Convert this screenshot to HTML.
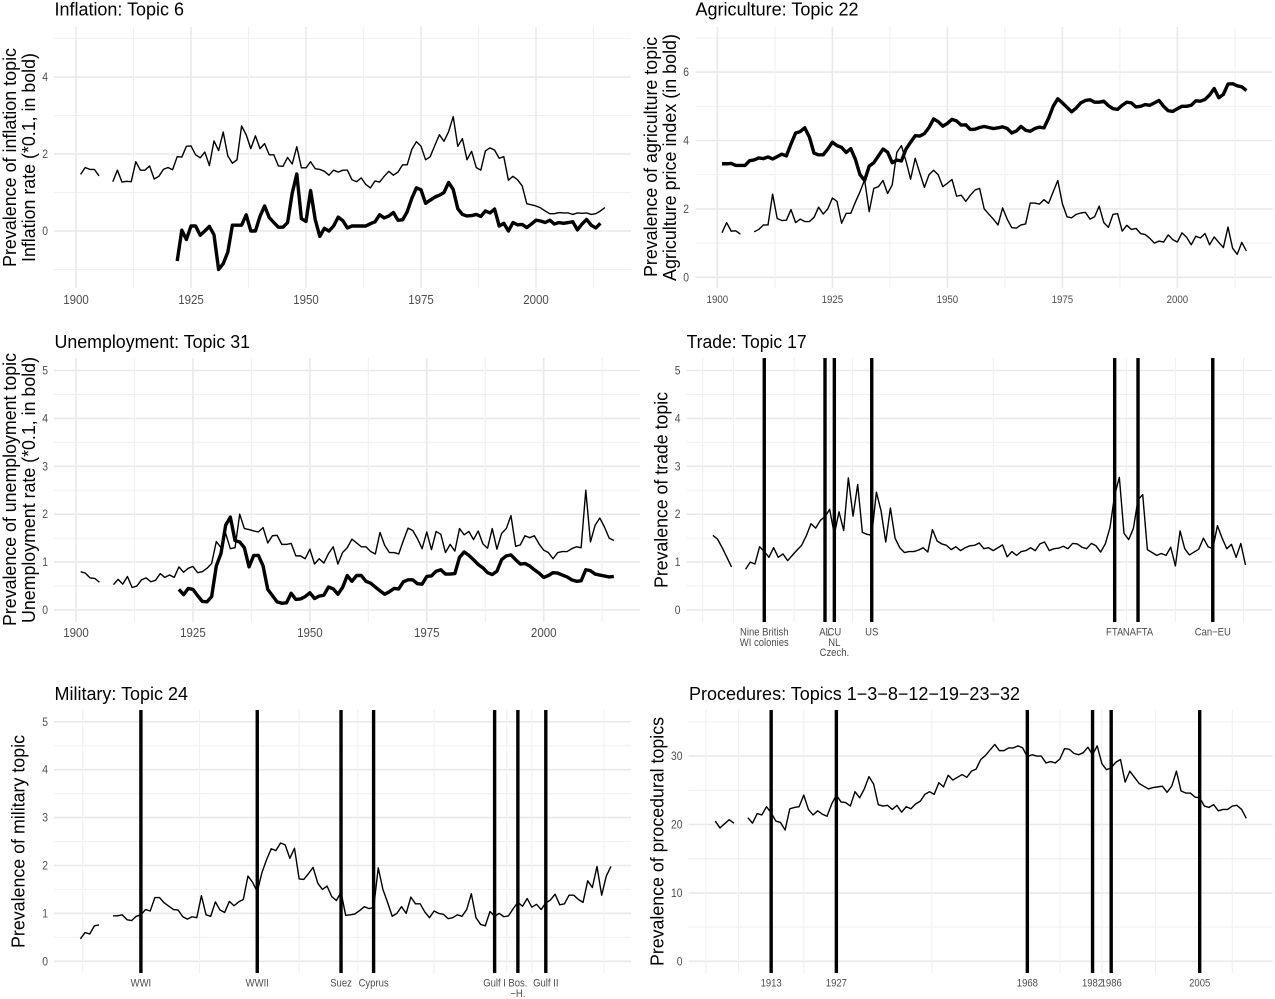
<!DOCTYPE html>
<html lang="en">
<head>
<meta charset="utf-8">
<title>Topic prevalence charts</title>
<style>
html,body{margin:0;padding:0;background:#fff;width:1275px;height:999px;overflow:hidden}
svg{display:block;font-family:"Liberation Sans",sans-serif;filter:blur(0.35px)}
.title{font-size:18px;fill:#000}
.axt{font-size:18.5px;fill:#000;text-anchor:middle}
</style>
</head>
<body>
<svg id="chart" xmlns="http://www.w3.org/2000/svg" width="1275" height="999" viewBox="0 0 1275 999">
  <rect width="1275" height="999" fill="#fff"/>
  <g id="panels"></g>
  <g>
    <text class="title" x="54.5" y="15.5" textLength="129.5" lengthAdjust="spacingAndGlyphs">Inflation: Topic 6</text>
    <text class="title" x="695.5" y="15.5" textLength="163" lengthAdjust="spacingAndGlyphs">Agriculture: Topic 22</text>
    <text class="title" x="54.5" y="348" textLength="195.5" lengthAdjust="spacingAndGlyphs">Unemployment: Topic 31</text>
    <text class="title" x="686.6" y="348" textLength="120" lengthAdjust="spacingAndGlyphs">Trade: Topic 17</text>
    <text class="title" x="54.5" y="700" textLength="133.5" lengthAdjust="spacingAndGlyphs">Military: Topic 24</text>
    <text class="title" x="689" y="700" textLength="331" lengthAdjust="spacingAndGlyphs">Procedures: Topics 1−3−8−12−19−23−32</text>
  </g>
  <g>
    <text class="axt" transform="translate(16 157.5) rotate(-90)" textLength="219" lengthAdjust="spacingAndGlyphs">Prevalence of inflation topic</text>
    <text class="axt" transform="translate(35 157.5) rotate(-90)" textLength="209" lengthAdjust="spacingAndGlyphs">Inflation rate (*0.1, in bold)</text>
    <text class="axt" transform="translate(657 157) rotate(-90)" textLength="240" lengthAdjust="spacingAndGlyphs">Prevalence of agriculture topic</text>
    <text class="axt" transform="translate(676 157.5) rotate(-90)" textLength="247" lengthAdjust="spacingAndGlyphs">Agriculture price index (in bold)</text>
    <text class="axt" transform="translate(16 489.5) rotate(-90)" textLength="273" lengthAdjust="spacingAndGlyphs">Prevalence of unemployment topic</text>
    <text class="axt" transform="translate(35 490) rotate(-90)" textLength="266" lengthAdjust="spacingAndGlyphs">Unemployment rate (*0.1, in bold)</text>
    <text class="axt" transform="translate(667.5 490) rotate(-90)" textLength="196" lengthAdjust="spacingAndGlyphs">Prevalence of trade topic</text>
    <text class="axt" transform="translate(24.5 841.5) rotate(-90)" textLength="213" lengthAdjust="spacingAndGlyphs">Prevalence of military topic</text>
    <text class="axt" transform="translate(663.5 841.5) rotate(-90)" textLength="249" lengthAdjust="spacingAndGlyphs">Prevalence of procedural topics</text>
  </g>
</svg>
<script>
const firstYear = 1901;
const boldStartInflation = 1922;
const boldStartUnemployment = 1922;
const boldStartAgriculture = 1901;

const inflationTopic = [1.47,1.65,1.60,1.60,1.43,null,null,1.28,1.58,1.27,1.29,1.28,1.80,1.58,1.58,1.69,1.35,1.42,1.60,1.65,1.59,1.93,1.92,2.20,2.21,1.98,1.90,2.05,1.70,2.34,2.09,2.57,1.95,1.76,1.85,2.73,2.50,2.14,2.47,2.14,2.27,1.98,1.98,1.69,1.68,1.91,1.74,2.19,1.64,1.64,1.80,1.62,1.60,1.55,1.45,1.58,1.53,1.58,1.58,1.33,1.28,1.38,1.21,1.12,1.30,1.27,1.42,1.55,1.45,1.53,1.72,1.72,2.12,2.32,2.20,1.85,1.93,2.22,2.50,2.33,2.58,2.97,2.20,2.40,1.85,2.07,1.65,1.58,2.08,2.16,2.10,1.89,1.93,1.32,1.42,1.33,1.17,0.71,0.68,0.65,0.60,0.52,0.45,0.45,0.48,0.47,0.47,0.43,0.47,0.46,0.47,0.43,0.45,0.52,0.61];
const inflationRate = [-0.78,0.02,-0.22,0.13,0.13,-0.11,0.0,0.12,-0.1,-1.0,-0.85,-0.55,0.15,0.15,0.15,0.42,0.0,0.0,0.38,0.65,0.35,0.22,0.1,0.1,0.22,0.98,1.48,0.32,0.25,1.05,0.3,-0.14,0.07,0.0,0.13,0.36,0.27,0.08,0.13,0.13,0.13,0.13,0.19,0.24,0.42,0.34,0.39,0.48,0.28,0.29,0.5,0.85,1.12,1.07,0.72,0.8,0.88,0.93,1.0,1.26,1.08,0.58,0.43,0.39,0.4,0.43,0.38,0.52,0.47,0.57,0.13,0.2,0.0,0.22,0.16,0.17,0.09,0.18,0.28,0.26,0.22,0.28,0.18,0.22,0.2,0.22,0.24,0.03,0.18,0.3,0.15,0.08,0.2];

const agricultureTopic = [1.3,1.6,1.35,1.36,1.26,null,null,1.33,1.4,1.53,1.53,2.43,1.72,1.66,1.67,1.98,1.6,1.7,1.63,1.63,1.75,2.05,1.85,2.0,2.32,2.22,1.58,1.87,1.87,2.2,2.5,2.85,1.92,2.6,2.65,2.83,2.45,2.7,3.65,3.85,3.4,2.87,3.48,3.05,2.63,3.0,3.13,3.0,2.65,2.75,2.86,2.37,2.4,2.22,2.4,2.55,2.6,2.0,1.85,1.7,1.53,2.03,1.7,1.45,1.44,1.53,1.56,2.17,2.17,2.14,2.27,2.16,2.5,2.83,2.15,1.77,1.74,1.84,1.88,1.9,1.7,1.77,2.08,1.6,1.46,1.84,1.86,1.35,1.52,1.4,1.43,1.28,1.25,1.14,1.0,1.06,1.03,1.24,1.1,1.03,1.3,1.17,0.95,1.2,1.15,1.28,0.95,1.18,1.02,0.87,1.47,0.85,0.67,1.02,0.77];
const agricultureIndex = [3.32,3.32,3.33,3.27,3.27,3.27,3.41,3.43,3.49,3.47,3.52,3.46,3.53,3.6,3.55,3.9,4.22,4.26,4.37,4.1,3.63,3.58,3.58,3.75,3.95,3.85,3.8,3.65,3.76,3.45,3.0,2.83,3.25,3.35,3.55,3.75,3.66,3.35,3.43,3.4,3.75,3.95,4.14,4.13,4.2,4.38,4.63,4.55,4.42,4.5,4.62,4.57,4.45,4.46,4.32,4.33,4.38,4.41,4.38,4.35,4.37,4.4,4.35,4.22,4.28,4.41,4.3,4.27,4.35,4.39,4.37,4.65,5.0,5.22,5.1,4.97,4.84,4.95,5.1,5.17,5.19,5.12,5.12,5.15,5.02,4.93,4.91,5.03,5.12,5.1,4.98,5.0,5.05,5.03,5.1,5.17,5.0,4.87,4.85,4.93,5.0,5.0,5.03,5.16,5.15,5.2,5.33,5.52,5.25,5.35,5.65,5.66,5.6,5.57,5.46];

const unemploymentTopic = [0.8,0.77,0.67,0.66,0.58,null,null,0.53,0.64,0.54,0.7,0.47,0.5,0.63,0.67,0.59,0.62,0.76,0.68,0.73,0.68,0.9,0.79,0.87,0.91,0.78,0.8,0.87,0.97,1.43,1.3,1.6,1.28,1.3,2.0,1.7,1.68,1.65,1.63,1.72,1.4,1.55,1.56,1.37,1.37,1.39,1.13,1.13,1.07,1.27,0.96,1.07,0.98,1.18,1.32,0.96,1.2,1.3,1.48,1.4,1.32,1.32,1.22,1.17,1.62,1.35,1.2,1.2,1.17,1.45,1.71,1.66,1.49,1.28,1.63,1.26,1.64,1.58,1.2,1.37,1.23,1.7,1.57,1.64,1.47,1.65,1.38,1.29,1.7,1.27,1.6,1.7,1.97,1.33,1.36,1.55,1.51,1.55,1.38,1.25,1.2,1.07,1.2,1.22,1.22,1.28,1.32,1.3,2.5,1.42,1.77,1.92,1.73,1.5,1.45];
const unemploymentRate = [0.43,0.32,0.45,0.43,0.3,0.18,0.17,0.28,0.92,1.18,1.77,1.94,1.45,1.42,1.3,0.9,1.14,1.14,0.92,0.43,0.3,0.17,0.14,0.15,0.35,0.22,0.23,0.28,0.36,0.24,0.29,0.31,0.48,0.44,0.33,0.47,0.72,0.6,0.72,0.72,0.6,0.56,0.48,0.4,0.33,0.38,0.45,0.44,0.59,0.63,0.63,0.55,0.54,0.7,0.71,0.81,0.84,0.75,0.75,0.76,1.1,1.21,1.14,1.05,0.95,0.88,0.78,0.74,0.81,1.05,1.13,1.15,1.05,0.96,0.97,0.92,0.84,0.77,0.68,0.72,0.78,0.77,0.73,0.69,0.63,0.6,0.61,0.84,0.82,0.75,0.73,0.71,0.69,0.7];

const tradeTopic = [1.56,1.48,1.3,1.1,0.9,null,null,0.85,1.0,0.96,1.32,1.22,1.1,1.3,1.1,1.17,1.03,1.14,1.25,1.35,1.55,1.8,1.71,1.87,1.95,2.1,1.58,2.05,1.66,2.76,1.96,2.62,1.62,1.58,1.56,2.46,2.07,1.42,2.13,1.5,1.3,1.2,1.22,1.22,1.25,1.3,1.21,1.68,1.44,1.38,1.35,1.26,1.32,1.24,1.3,1.34,1.35,1.4,1.28,1.3,1.24,1.3,1.36,1.11,1.22,1.14,1.22,1.24,1.3,1.24,1.38,1.42,1.24,1.28,1.29,1.33,1.28,1.39,1.38,1.31,1.28,1.39,1.34,1.21,1.38,1.72,2.4,2.77,1.6,1.47,1.7,2.3,2.41,1.26,1.2,1.14,1.18,1.14,1.31,0.92,1.65,1.28,1.15,1.21,1.27,1.5,1.32,1.28,1.76,1.5,1.28,1.37,1.1,1.39,0.94];
const tradeEventYears = [1912,1925,1927,1935,1987,1992,2008];
const tradeEventLabels = ["Nine British\nWI colonies","AL","CU\nNL\nCzech.","US","FTA","NAFTA","Can−EU"];
const tradeMinorYears = [1898.8,1905.4,1918.4,1926,1930.9,1961,1989.5,2000,2014.6];

const militaryTopic = [0.47,0.6,0.57,0.74,0.76,null,null,0.95,0.95,0.97,0.87,0.85,0.94,0.97,1.08,1.05,1.33,1.33,1.22,1.15,1.08,1.07,0.93,0.88,0.93,0.91,1.37,0.97,0.94,1.24,1.07,1.02,1.25,1.16,1.24,1.29,1.78,1.65,1.45,1.85,2.12,2.35,2.31,2.47,2.43,2.15,2.36,1.72,1.71,1.83,1.96,1.63,1.5,1.57,1.35,1.27,1.44,0.96,0.97,0.99,1.06,1.14,1.1,1.12,1.95,1.5,1.23,0.94,1.0,1.14,1.0,1.34,1.2,1.2,1.03,0.91,1.05,1.0,0.98,0.89,0.91,0.97,0.94,1.08,1.41,0.91,0.77,0.74,1.04,0.94,1.0,0.93,0.95,1.1,1.23,1.15,1.31,1.13,1.19,1.08,1.22,1.28,1.4,1.18,1.2,1.38,1.38,1.29,1.23,1.68,1.54,1.98,1.38,1.78,1.98];
const militaryEventYears = [1914,1939,1957,1964,1990,1995,2001];
const militaryEventLabels = ["WWI","WWII","Suez","Cyprus","Gulf I","Bos.\n−H.","Gulf II"];
const militaryMinorYears = [1901.5,1926.6,1948,1960.6,1977,1992.6,1998,2013.5];

const proceduresTopic = [20.5,19.5,20.1,20.7,20.2,null,null,21.0,20.2,21.6,21.4,22.6,21.7,20.5,20.3,19.2,22.3,22.5,22.6,24.3,22.2,21.4,22.0,21.5,21.2,23.0,24.3,23.3,23.2,22.7,24.8,23.9,25.2,27.0,25.9,22.9,22.7,22.8,22.2,22.8,21.8,22.6,22.3,23.0,23.4,24.4,24.8,24.4,26.1,25.5,27.2,26.5,26.9,27.3,26.9,27.8,28.1,29.5,30.1,30.9,31.7,30.8,30.8,31.2,31.2,31.5,31.2,29.9,30.2,30.0,30.0,29.0,29.2,29.0,29.6,31.1,31.0,30.4,30.2,30.5,31.3,30.2,31.5,28.9,28.0,28.3,29.1,29.5,26.2,27.8,26.9,26.0,25.6,25.2,25.4,25.5,25.6,24.7,25.6,27.8,24.9,24.6,24.6,24.0,23.9,22.7,22.5,22.9,22.0,22.2,22.2,22.7,22.8,22.2,20.9];
const proceduresEventYears = [1913,1927,1968,1982,1986,2005];
const proceduresEventLabels = ["1913","1927","1968","1982","1986","2005"];
const proceduresMinorYears = [1899,1906,1920,1947.5,1975,1984,1995.5,2012];

const yearTickLabels = ["1900","1925","1950","1975","2000"];
const yearMinorYears = [1912.5,1937.5,1962.5,1987.5,2012.5];
const inflationMajorTicks = [0,2,4];
const inflationMinorTicks = [-1,1,3,5];
const agricultureMajorTicks = [0,2,4,6];
const agricultureMinorTicks = [1,3,5,7];
const shareMajorTicks = [0,1,2,3,4,5];
const shareMinorTicks = [0.5,1.5,2.5,3.5,4.5];
const proceduresMajorTicks = [0,10,20,30];
const proceduresMinorTicks = [5,15,25,35];

const SVG_NS = "http://www.w3.org/2000/svg";
const root = document.getElementById("panels");

function add(parent, tag, attrs, text) {
  const el = document.createElementNS(SVG_NS, tag);
  for (const k in attrs) el.setAttribute(k, attrs[k]);
  if (text !== undefined) el.textContent = text;
  parent.appendChild(el);
  return el;
}

function drawSeries(g, values, start, xAxis, yAxis, width, name) {
  let d = "";
  let pen = false;
  values.forEach(function (v, i) {
    if (v === null) { pen = false; return; }
    d += (pen ? "L" : "M") + xAxis(start + i).toFixed(2) + " " + yAxis(v).toFixed(2);
    pen = true;
  });
  const p = add(g, "path", {d: d, fill: "none", stroke: "#000", "stroke-width": width, "stroke-linejoin": "round", "stroke-linecap": "butt"});
  
  
}

function tickTransform(x, y, squeeze) {
  return "translate(" + x + " " + y + ") scale(" + squeeze + " 1)";
}

function drawPanel(o) {
  const g = add(root, "g", {});
  
  
  const xAxis = function (year) { return o.x1900 + (year - 1900) * o.xScale; };
  const yAxis = function (value) { return o.y0 - value * o.yScale; };

  o.minorY.forEach(function (v) {
    const l = add(g, "line", {x1: o.left, x2: o.right, y1: yAxis(v), y2: yAxis(v), stroke: "#f0f0f0", "stroke-width": 1.1});
    
    
  });
  o.majorY.forEach(function (v) {
    const l = add(g, "line", {x1: o.left, x2: o.right, y1: yAxis(v), y2: yAxis(v), stroke: "#e9e9e9", "stroke-width": 1.6});
    
    
    const t = add(g, "text", {transform: tickTransform(o.tickX, yAxis(v) + 4, 0.9), "text-anchor": "end", "font-size": 11.5, fill: "#4d4d4d"}, String(v));
    
    
  });
  o.minorX.forEach(function (year) {
    const l = add(g, "line", {x1: xAxis(year), x2: xAxis(year), y1: o.top, y2: o.bottom, stroke: "#f0f0f0", "stroke-width": 1.1});
    
    
  });
  if (o.yearLabels) {
    o.yearLabels.forEach(function (label) {
      const x = xAxis(Number(label));
      const l = add(g, "line", {x1: x, x2: x, y1: o.top, y2: o.bottom, stroke: "#e9e9e9", "stroke-width": 1.6});
      
      
      const t = add(g, "text", {transform: tickTransform(x, o.labelY, o.labelSqueeze), "text-anchor": "middle", "font-size": o.labelSize, fill: "#4d4d4d"}, label);
      
      
    });
  }
  drawSeries(g, o.topic, firstYear, xAxis, yAxis, 1.4, o.name + "-topic-line");
  if (o.bold) drawSeries(g, o.bold, o.boldStart, xAxis, yAxis, 3.4, o.name + "-bold-line");
  if (o.events) {
    o.events.forEach(function (year, i) {
      const x = xAxis(year);
      const l = add(g, "line", {x1: x, x2: x, y1: o.top, y2: o.bottom, stroke: "#000", "stroke-width": 3.4});
      
      
      o.eventLabels[i].split("\n").forEach(function (part, j) {
        const t = add(g, "text", {transform: tickTransform(x, o.labelY + j * 10.3, o.labelSqueeze), "text-anchor": "middle", "font-size": o.labelSize, fill: "#4d4d4d"}, part);
        
        
      });
    });
  }
}

drawPanel({name: "inflation", x1900: 76, xScale: 4.6, y0: 231, yScale: 38.5, left: 54, right: 631, top: 27, bottom: 288, tickX: 48, labelY: 304, labelSize: 12.5, labelSqueeze: 0.92, majorY: inflationMajorTicks, minorY: inflationMinorTicks, minorX: yearMinorYears, yearLabels: yearTickLabels, topic: inflationTopic, bold: inflationRate, boldStart: boldStartInflation});
drawPanel({name: "agriculture", x1900: 717.4, xScale: 4.6, y0: 277.3, yScale: 34.2, left: 695.5, right: 1272.6, top: 27, bottom: 288, tickX: 689, labelY: 303, labelSize: 11, labelSqueeze: 0.88, majorY: agricultureMajorTicks, minorY: agricultureMinorTicks, minorX: yearMinorYears, yearLabels: yearTickLabels, topic: agricultureTopic, bold: agricultureIndex, boldStart: boldStartAgriculture});
drawPanel({name: "unemployment", x1900: 76, xScale: 4.677, y0: 610, yScale: 47.9, left: 54, right: 640, top: 358, bottom: 622, tickX: 48, labelY: 637, labelSize: 12.5, labelSqueeze: 0.92, majorY: shareMajorTicks, minorY: shareMinorTicks, minorX: yearMinorYears, yearLabels: yearTickLabels, topic: unemploymentTopic, bold: unemploymentRate, boldStart: boldStartUnemployment});
drawPanel({name: "trade", x1900: 708.2, xScale: 4.672, y0: 610, yScale: 47.9, left: 686.6, right: 1272.6, top: 358, bottom: 622, tickX: 680.5, labelY: 635.5, labelSize: 10.8, labelSqueeze: 0.88, majorY: shareMajorTicks, minorY: shareMinorTicks, minorX: tradeMinorYears, topic: tradeTopic, events: tradeEventYears, eventLabels: tradeEventLabels});
drawPanel({name: "military", x1900: 75.75, xScale: 4.654, y0: 961.3, yScale: 47.9, left: 54, right: 631, top: 710, bottom: 973, tickX: 48, labelY: 986.5, labelSize: 10.8, labelSqueeze: 0.88, majorY: shareMajorTicks, minorY: shareMinorTicks, minorX: militaryMinorYears, topic: militaryTopic, events: militaryEventYears, eventLabels: militaryEventLabels});
drawPanel({name: "procedures", x1900: 710.6, xScale: 4.658, y0: 961.3, yScale: 6.84, left: 688.6, right: 1272.6, top: 710, bottom: 973, tickX: 682.5, labelY: 986.5, labelSize: 10.8, labelSqueeze: 0.88, majorY: proceduresMajorTicks, minorY: proceduresMinorTicks, minorX: proceduresMinorYears, topic: proceduresTopic, events: proceduresEventYears, eventLabels: proceduresEventLabels});
</script>
</body>
</html>
